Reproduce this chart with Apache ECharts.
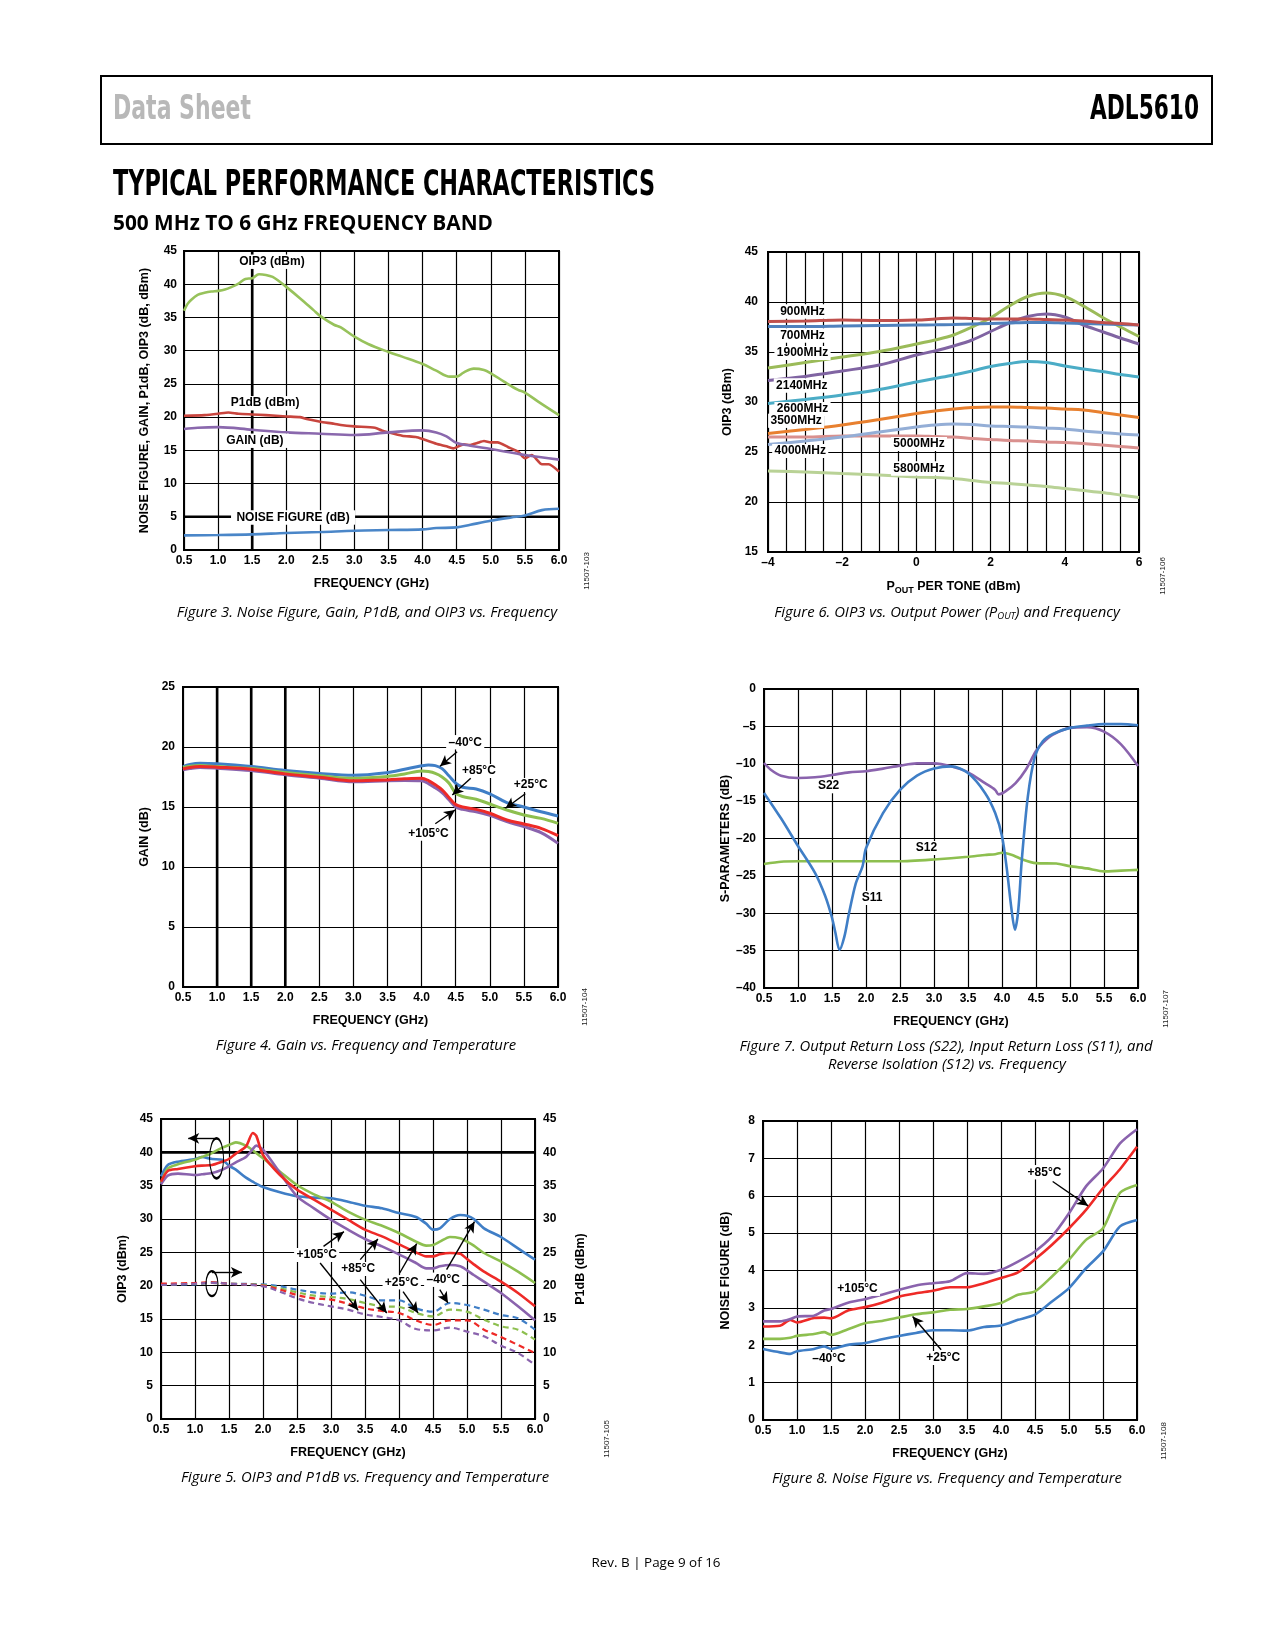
<!DOCTYPE html>
<html><head><meta charset="utf-8">
<script src="https://cdn.jsdelivr.net/npm/echarts@6/dist/echarts.min.js"></script>
<style>html,body{margin:0;padding:0;background:#fff}#c{width:1275px;height:1650px}</style>
</head><body><div id="c"></div>
<script>
// ---------------- DATA ----------------
// Figure 3: NF, Gain, P1dB, OIP3 vs frequency  [GHz, value]
const f3Oip3 = [[0.5,36.0],[0.55,37.0],[0.6,37.6],[0.7,38.4],[0.8,38.7],[0.9,38.9],[1.0,39.0],[1.1,39.2],[1.2,39.6],[1.3,40.1],[1.4,40.8],[1.5,40.9],[1.6,41.5],[1.7,41.4],[1.8,41.1],[1.9,40.4],[2.0,39.6],[2.2,37.9],[2.4,36.1],[2.5,35.2],[2.7,33.9],[2.8,33.5],[3.0,32.1],[3.2,31.0],[3.5,29.8],[3.7,29.1],[4.0,28.0],[4.2,27.0],[4.4,26.1],[4.5,26.1],[4.6,26.7],[4.75,27.3],[4.9,27.1],[5.0,26.6],[5.2,25.3],[5.4,24.1],[5.5,23.7],[5.7,22.3],[6.0,20.3]];
const f3P1dB = [[0.5,20.2],[0.8,20.3],[1.0,20.5],[1.15,20.7],[1.3,20.5],[1.5,20.4],[1.7,20.3],[2.0,20.1],[2.2,20.0],[2.3,19.7],[2.5,19.3],[2.7,19.0],[2.8,18.8],[3.0,18.6],[3.3,18.4],[3.4,18.0],[3.5,17.7],[3.7,17.2],[3.9,17.0],[4.0,16.7],[4.2,16.0],[4.35,15.6],[4.45,15.3],[4.6,15.9],[4.7,15.8],[4.8,16.1],[4.9,16.4],[5.0,16.2],[5.1,16.2],[5.25,15.5],[5.4,14.8],[5.5,13.8],[5.6,14.3],[5.75,12.9],[5.85,12.9],[6.0,11.8]];
const f3Gain = [[0.5,18.2],[0.7,18.4],[1.0,18.5],[1.5,18.1],[2.0,17.7],[2.5,17.5],[3.0,17.3],[3.5,17.7],[4.0,18.0],[4.2,17.7],[4.35,17.1],[4.5,16.1],[4.7,15.7],[5.0,15.2],[5.5,14.3],[6.0,13.6]];
const f3NF = [[0.5,2.2],[1.0,2.25],[1.5,2.35],[2.0,2.55],[2.5,2.7],[3.0,2.9],[3.5,3.0],[4.0,3.1],[4.2,3.3],[4.5,3.4],[4.7,3.8],[5.0,4.4],[5.3,4.9],[5.5,5.2],[5.75,6.0],[6.0,6.2]];

// Figure 6: OIP3 vs POUT per tone
const poutDbm = [-4,-3,-2,-1,0,0.5,1,1.5,2,2.5,3,3.5,4,4.5,5,5.5,6];
const oip3_900  = [38.05,38.1,38.2,38.15,38.2,38.3,38.4,38.35,38.3,38.3,38.3,38.25,38.2,38.1,37.95,37.85,37.7];
const oip3_700  = [37.55,37.55,37.6,37.65,37.7,37.72,37.75,37.8,37.85,37.9,37.95,37.95,37.9,37.85,37.8,37.75,37.7];
const oip3_1900 = [33.4,33.95,34.5,35.05,35.8,36.2,36.7,37.5,38.4,39.6,40.55,40.9,40.55,39.6,38.5,37.5,36.55];
const oip3_2140 = [32.15,32.55,33.1,33.7,34.7,35.1,35.6,36.2,37.05,37.9,38.55,38.8,38.5,37.7,37.05,36.4,35.8];
const oip3_2600 = [29.85,30.25,30.7,31.25,32.0,32.35,32.7,33.1,33.55,33.85,34.05,33.95,33.6,33.3,33.05,32.75,32.5];
const oip3_3500 = [26.85,27.25,27.7,28.25,28.85,29.1,29.3,29.45,29.5,29.5,29.45,29.4,29.3,29.2,28.95,28.7,28.45];
const oip3_4000 = [25.75,26.1,26.5,27.0,27.5,27.7,27.8,27.75,27.6,27.55,27.5,27.4,27.3,27.1,26.95,26.8,26.7];
const oip3_5000 = [26.5,26.5,26.6,26.6,26.6,26.55,26.5,26.35,26.25,26.15,26.1,26.0,25.95,25.85,25.7,25.55,25.4];
const oip3_5800 = [23.1,23.0,22.85,22.7,22.5,22.45,22.35,22.15,21.95,21.85,21.7,21.55,21.35,21.15,20.95,20.7,20.45];

// Figure 4: gain vs frequency and temperature
const f4Freq = [0.5,0.6,0.75,1.0,1.5,2.0,2.5,3.0,3.5,3.75,4.0,4.1,4.2,4.3,4.4,4.5,4.6,4.8,5.0,5.25,5.5,5.75,6.0];
const gainM40 = [18.37,18.55,18.65,18.6,18.37,18.04,17.8,17.65,17.87,18.15,18.43,18.5,18.45,18.2,17.6,16.98,16.65,16.5,16.1,15.37,15.0,14.6,14.25];
const gainP25 = [18.3,18.4,18.45,18.37,18.2,17.87,17.6,17.4,17.55,17.75,18.0,17.95,17.8,17.5,17.0,16.15,15.87,15.65,15.25,14.75,14.34,14.05,13.64];
const gainP85 = [18.18,18.3,18.37,18.32,18.15,17.76,17.48,17.18,17.26,17.35,17.4,17.2,16.85,16.43,15.8,15.2,15.0,14.8,14.48,13.92,13.59,13.22,12.61];
const gainP105 = [18.1,18.2,18.29,18.23,18.04,17.68,17.4,17.1,17.18,17.2,17.18,16.95,16.6,16.2,15.6,15.0,14.8,14.6,14.3,13.78,13.36,12.86,11.97];

// Figure 7: S-parameters [GHz, dB]
const s22 = [[0.5,-9.9],[0.6,-10.8],[0.75,-11.6],[1.0,-11.9],[1.25,-11.8],[1.5,-11.5],[1.75,-11.15],[2.0,-11.0],[2.25,-10.65],[2.5,-10.25],[2.75,-9.95],[3.0,-9.95],[3.25,-10.35],[3.5,-11.15],[3.75,-12.6],[3.9,-13.5],[3.95,-14.1],[4.05,-13.7],[4.2,-12.6],[4.35,-10.8],[4.5,-8.3],[4.6,-7.2],[4.75,-6.1],[5.0,-5.2],[5.25,-5.1],[5.5,-5.7],[5.75,-7.4],[6.0,-10.3]];
const s11 = [[0.5,-13.9],[0.75,-17.3],[1.0,-21.0],[1.25,-24.6],[1.4,-27.7],[1.5,-30.6],[1.55,-32.6],[1.61,-34.9],[1.68,-33.2],[1.75,-30.0],[1.85,-26.0],[1.95,-23.7],[2.0,-21.3],[2.25,-16.6],[2.5,-13.5],[2.75,-11.6],[3.0,-10.65],[3.25,-10.35],[3.5,-11.25],[3.75,-13.9],[3.9,-16.6],[4.0,-19.7],[4.07,-24.0],[4.14,-29.5],[4.19,-32.2],[4.24,-29.5],[4.29,-23.0],[4.38,-14.4],[4.48,-9.2],[4.6,-7.0],[4.75,-6.0],[5.0,-5.2],[5.25,-4.9],[5.5,-4.7],[5.75,-4.7],[6.0,-4.85]];
const s12 = [[0.5,-23.4],[0.75,-23.1],[1.0,-23.05],[1.5,-23.05],[2.0,-23.05],[2.5,-23.05],[3.0,-22.8],[3.5,-22.45],[3.75,-22.2],[3.9,-22.1],[4.0,-21.9],[4.15,-22.2],[4.3,-22.8],[4.5,-23.3],[4.8,-23.35],[5.0,-23.7],[5.25,-24.0],[5.5,-24.4],[5.75,-24.3],[6.0,-24.2]];

// Figure 5: OIP3 (solid) and P1dB (dashed) vs frequency and temperature
const f5Freq = [0.5,0.6,0.75,1.0,1.1,1.25,1.4,1.5,1.6,1.75,1.85,1.9,2.0,2.25,2.5,2.75,3.0,3.25,3.5,3.75,4.0,4.25,4.4,4.5,4.6,4.75,4.9,5.0,5.1,5.25,5.5,5.75,6.0];
const oip3M40 = [36.4,38.1,38.6,39.0,39.3,39.0,38.9,38.0,37.4,36.2,35.6,35.3,34.8,34.0,33.4,33.2,33.1,32.6,32.0,31.6,30.9,30.3,29.3,28.4,28.6,30.0,30.6,30.5,30.0,28.6,27.3,25.6,23.9];
const oip3P25 = [35.4,37.6,38.2,38.9,39.3,39.9,40.7,41.1,41.5,41.0,40.3,39.9,39.1,37.1,35.1,33.7,32.6,31.1,29.9,29.0,27.9,26.6,26.0,26.1,26.6,27.3,27.1,26.6,26.0,24.9,23.6,22.1,20.4];
const oip3P85 = [35.6,37.2,37.5,37.9,38.0,38.1,38.6,39.0,39.8,40.9,42.9,42.5,39.6,36.6,34.4,32.9,31.4,29.9,28.4,27.4,26.2,25.0,24.4,24.4,24.7,24.9,24.8,24.0,23.2,22.1,20.6,18.9,16.9];
const oip3P105 = [35.2,36.5,36.8,36.6,36.7,36.9,37.4,37.9,38.5,39.3,40.5,41.0,40.4,36.9,33.4,31.6,29.9,28.4,27.0,25.9,24.7,23.4,22.6,22.6,22.9,23.1,22.9,22.3,21.6,20.6,18.9,16.9,14.8];
const p1Freq = [0.5,1.0,1.25,1.5,2.0,2.25,2.5,2.75,3.0,3.25,3.5,3.75,4.0,4.25,4.5,4.75,5.0,5.25,5.5,5.75,6.0];
const p1dbM40 = [20.2,20.2,20.5,20.3,20.2,19.9,19.4,19.0,18.8,19.0,18.5,17.8,17.8,16.6,16.1,17.4,17.1,16.4,15.6,15.1,13.4];
const p1dbP25 = [20.2,20.3,20.4,20.3,20.1,19.6,19.0,18.5,18.3,18.0,17.4,16.9,16.8,15.9,15.4,16.4,16.1,14.9,13.9,13.4,11.9];
const p1dbP85 = [20.3,20.4,20.5,20.3,20.0,19.4,18.6,18.1,17.9,17.3,16.6,16.2,15.9,14.8,14.1,14.8,14.8,13.4,12.3,11.1,9.9];
const p1dbP105 = [20.1,20.3,20.4,20.3,19.9,19.1,18.1,17.4,16.9,16.4,15.7,15.3,14.8,13.5,13.3,13.7,13.1,12.4,11.0,9.9,8.1];

// Figure 8: noise figure vs frequency and temperature
const f8Freq = [0.5,0.75,0.9,1.0,1.25,1.4,1.5,1.75,2.0,2.25,2.5,2.75,3.0,3.25,3.5,3.75,4.0,4.25,4.5,4.75,5.0,5.25,5.5,5.75,6.0];
const nfP105 = [2.64,2.64,2.7,2.77,2.79,2.93,2.97,3.14,3.23,3.35,3.48,3.6,3.66,3.71,3.93,3.91,4.02,4.24,4.51,4.91,5.53,6.25,6.73,7.4,7.78];
const nfP85  = [2.5,2.52,2.68,2.61,2.73,2.74,2.72,2.93,3.02,3.14,3.3,3.39,3.46,3.55,3.55,3.66,3.8,3.95,4.3,4.69,5.13,5.62,6.2,6.71,7.31];
const nfP25  = [2.17,2.17,2.2,2.25,2.3,2.35,2.28,2.43,2.59,2.65,2.74,2.83,2.88,2.95,2.97,3.04,3.13,3.35,3.44,3.84,4.29,4.82,5.13,6.08,6.29];
const nfM40  = [1.9,1.81,1.77,1.84,1.9,1.97,1.9,2.01,2.06,2.16,2.25,2.33,2.4,2.4,2.39,2.49,2.53,2.68,2.82,3.17,3.53,4.06,4.51,5.18,5.35];

// Emphasised grid lines (axis values)
const f3BoldX = [1.5], f3BoldY = [5], f4BoldX = [1.0, 1.5, 2.0], f5BoldY = [40];

// Annotations (data coordinates)
const f3Labels = [['OIP3 (dBm)',1.79,43.4],['P1dB (dBm)',1.69,22.1],['GAIN (dB)',1.54,16.45],['NOISE FIGURE (dB)',2.1,4.9]];
const f6Labels = [['900MHz',-3.07,39.06],['700MHz',-3.07,36.65],['1900MHz',-3.07,34.9],['2140MHz',-3.09,31.64],['2600MHz',-3.07,29.3],['3500MHz',-3.24,28.13],['4000MHz',-3.13,25.09],['5000MHz',0.07,25.79],['5800MHz',0.07,23.35]];
const f4Labels = [['\u201340\u00b0C',4.64,20.4],['+85\u00b0C',4.84,18.0],['+25\u00b0C',5.6,16.84],['+105\u00b0C',4.1,12.8]];
const f4Arrows = [[4.52,19.6,4.27,18.4],[4.72,17.4,4.45,16.0],[5.52,16.1,5.23,14.9],[4.2,13.6,4.49,14.75]];
const f7Labels = [['S22',1.45,-13.0],['S12',2.89,-21.27],['S11',2.09,-27.95]];
const f5Labels = [['+105\u00b0C',2.79,24.6],['+85\u00b0C',3.4,22.5],['+25\u00b0C',4.04,20.5],['\u201340\u00b0C',4.65,20.9]];
const f5Arrows = [[2.89,25.9,3.19,28.1],[2.84,23.4,3.4,16.3],[3.43,23.9,3.69,27.0],[3.43,20.9,3.82,15.9],[4.01,21.9,4.26,26.3],[4.06,19.1,4.28,15.9],[4.7,22.4,5.11,29.6],[4.6,19.4,4.72,17.4],[1.31,42.1,0.9,42.1],[1.25,22.0,1.69,22.0]];
const f5Ellipses = [[1.317,39.1],[1.249,20.3]];
const f8Labels = [['+85\u00b0C',4.64,6.63],['+105\u00b0C',1.89,3.51],['\u201340\u00b0C',1.47,1.63],['+25\u00b0C',3.15,1.66]];
const f8Arrows = [[4.76,6.38,5.28,5.73],[3.12,1.88,2.7,2.77]];

// ---------------- STYLE / BUILD ----------------
const FONT = '"Liberation Sans", Arial, Helvetica, sans-serif';
const LBL = {color:'#000', fontFamily:FONT, fontWeight:'bold', fontSize:12};
const NAME = {color:'#000', fontFamily:FONT, fontWeight:'bold', fontSize:12.5};
const dash = v => v < 0 ? '\u2013' + Math.abs(v) : String(v);
const zip = (xs, ys) => xs.map((x, i) => [x, ys[i]]);
const C = {blue:'#3f7ec6', green:'#8dbf4f', red:'#ee2a27', purple:'#8a63ad'};

const mctx = document.createElement('canvas').getContext('2d');
function tw(text, font) { mctx.font = font; return mctx.measureText(text).width; }

const grids = [
  {left:184, top:251, width:375, height:299},
  {left:768, top:252, width:371, height:300},
  {left:183, top:687, width:375, height:300},
  {left:764, top:689, width:374, height:299},
  {left:161, top:1119, width:374, height:300},
  {left:763, top:1121, width:374, height:299}
].map(g => Object.assign(g, {show:true, borderColor:'#000', borderWidth:2, containLabel:false}));

function xAx(gi, o) {
  return Object.assign({
    type:'value', gridIndex:gi, min:0.5, max:6.0, interval:0.5,
    axisLine:{show:true, onZero:false, lineStyle:{color:'#000', width:2}},
    axisTick:{show:false},
    splitLine:{show:true, lineStyle:{color:'#000', width:1.2}},
    axisLabel:Object.assign({margin:5, interval:0, formatter:v => v.toFixed(1)}, LBL),
    name:'FREQUENCY (GHz)', nameLocation:'middle', nameGap:27, nameTextStyle:NAME
  }, o || {});
}
function yAx(gi, min, max, step, name, gap, o) {
  return Object.assign({
    type:'value', gridIndex:gi, min:min, max:max, interval:step,
    axisLine:{show:true, onZero:false, lineStyle:{color:'#000', width:2}},
    axisTick:{show:false},
    splitLine:{show:true, lineStyle:{color:'#000', width:1.2}},
    axisLabel:Object.assign({margin:8, formatter:dash}, LBL),
    name:name, nameLocation:'middle', nameGap:gap, nameTextStyle:NAME
  }, o || {});
}

const xAxes = [
  xAx(0),
  xAx(1, {min:-4, max:6, interval:0.5,
    axisLabel:Object.assign({margin:5, interval:0, formatter:v => Math.abs(v % 2) < 1e-9 ? dash(v) : ''}, LBL),
    name:'{a|P}{s|OUT}{a| PER TONE (dBm)}',
    nameTextStyle:{rich:{a:NAME, s:{color:'#000', fontFamily:FONT, fontWeight:'bold', fontSize:9, padding:[7,0,0,0]}}}}),
  xAx(2), xAx(3), xAx(4), xAx(5)
];
const yAxes = [
  yAx(0, 0, 45, 5, 'NOISE FIGURE, GAIN, P1dB, OIP3 (dB, dBm)', 33, {axisLabel:Object.assign({margin:7, formatter:dash}, LBL)}),
  yAx(1, 15, 45, 5, 'OIP3 (dBm)', 34, {axisLabel:Object.assign({margin:10, formatter:dash}, LBL)}),
  yAx(2, 0, 25, 5, 'GAIN (dB)', 32),
  yAx(3, -40, 0, 5, 'S-PARAMETERS (dB)', 32),
  yAx(4, 0, 45, 5, 'OIP3 (dBm)', 32),
  yAx(5, 0, 8, 1, 'NOISE FIGURE (dB)', 31),
  yAx(4, 0, 45, 5, 'P1dB (dBm)', 39, {position:'right', splitLine:{show:false}})
];

function ln(xi, yi, data, color, o) {
  o = o || {};
  return {type:'line', xAxisIndex:xi, yAxisIndex:yi, data:data, showSymbol:false, symbol:'none',
    smooth:o.smooth == null ? 0.35 : o.smooth, silent:true, z:o.z || 3, animation:false,
    lineStyle:{color:color, width:o.width || 2.6, type:o.dash ? [6,4] : 'solid'}, itemStyle:{color:color}};
}
// emphasised grid lines drawn as plain line series spanning the axis range
function boldLines(xi, yi, xs, ys) {
  const xa = xAxes[xi], ya = yAxes[yi];
  const out = [];
  (xs || []).forEach(x => out.push(ln(xi, yi, [[x, ya.min], [x, ya.max]], '#000', {smooth:0, width:2.6, z:1})));
  (ys || []).forEach(y => out.push(ln(xi, yi, [[xa.min, y], [xa.max, y]], '#000', {smooth:0, width:2.6, z:1})));
  return out;
}
const LBLFONT = 'bold 12px ' + FONT;
function ann(xi, yi, labels, arrows, padX) {
  padX = padX == null ? 2 : padX;
  const s = {type:'scatter', xAxisIndex:xi, yAxisIndex:yi, z:6, silent:true, animation:false,
    symbol:'rect', itemStyle:{color:'#ffffff', opacity:1, borderWidth:0},
    data:labels.map(l => ({name:l[0], value:[l[1], l[2]], symbolSize:[Math.ceil(tw(l[0], LBLFONT)) + 2 * padX, 14]})),
    label:Object.assign({show:true, position:'inside', formatter:'{b}', textBorderWidth:0,
      backgroundColor:'#ffffff', padding:[1, padX]}, LBL)};
  if (arrows && arrows.length) {
    s.markLine = {silent:true, animation:false, z:7, symbol:['none','arrow'], symbolSize:[8,11],
      label:{show:false}, lineStyle:{color:'#000', width:1.4, type:'solid', opacity:1},
      data:arrows.map(a => [{coord:[a[0], a[1]]}, {coord:[a[2], a[3]]}])};
  }
  return s;
}

const series = [].concat(
  // Figure 3
  boldLines(0, 0, f3BoldX, f3BoldY),
  [ln(0, 0, f3Oip3, '#97c25b'), ln(0, 0, f3P1dB, '#c8453e', {smooth:0.2}), ln(0, 0, f3Gain, '#8a68ad'), ln(0, 0, f3NF, '#4a86c8'),
   ann(0, 0, f3Labels, null, 5)],
  // Figure 6
  [ln(1, 1, zip(poutDbm, oip3_5800), '#b9d296', {width:3}),
   ln(1, 1, zip(poutDbm, oip3_5000), '#d9908e', {width:3}),
   ln(1, 1, zip(poutDbm, oip3_4000), '#94aed6', {width:3}),
   ln(1, 1, zip(poutDbm, oip3_3500), '#e8802f', {width:3}),
   ln(1, 1, zip(poutDbm, oip3_2600), '#4bacc6', {width:3}),
   ln(1, 1, zip(poutDbm, oip3_2140), '#8064a2', {width:3}),
   ln(1, 1, zip(poutDbm, oip3_1900), '#9bbb59', {width:3}),
   ln(1, 1, zip(poutDbm, oip3_700), '#4f81bd', {width:3}),
   ln(1, 1, zip(poutDbm, oip3_900), '#c0504d', {width:3}),
   ann(1, 1, f6Labels)],
  // Figure 4
  boldLines(2, 2, f4BoldX, null),
  [ln(2, 2, zip(f4Freq, gainM40), C.blue, {width:3}),
   ln(2, 2, zip(f4Freq, gainP25), C.green, {width:3}),
   ln(2, 2, zip(f4Freq, gainP105), C.purple, {width:3}),
   ln(2, 2, zip(f4Freq, gainP85), C.red, {width:3}),
   ann(2, 2, f4Labels, f4Arrows)],
  // Figure 7
  [ln(3, 3, s12, C.green, {smooth:0.2}),
   ln(3, 3, s22, C.purple, {smooth:0.3}),
   ln(3, 3, s11, C.blue, {smooth:0.3}),
   ann(3, 3, f7Labels)],
  // Figure 5
  boldLines(4, 4, null, f5BoldY),
  [ln(4, 6, zip(p1Freq, p1dbM40), C.blue, {dash:true, width:2.2}),
   ln(4, 6, zip(p1Freq, p1dbP25), C.green, {dash:true, width:2.2}),
   ln(4, 6, zip(p1Freq, p1dbP85), C.red, {dash:true, width:2.2}),
   ln(4, 6, zip(p1Freq, p1dbP105), C.purple, {dash:true, width:2.2}),
   ln(4, 4, zip(f5Freq, oip3M40), C.blue, {smooth:0.25}),
   ln(4, 4, zip(f5Freq, oip3P25), C.green, {smooth:0.25}),
   ln(4, 4, zip(f5Freq, oip3P105), C.purple, {smooth:0.25}),
   ln(4, 4, zip(f5Freq, oip3P85), C.red, {smooth:0.25}),
   {type:'scatter', xAxisIndex:4, yAxisIndex:4, z:5, silent:true, animation:false, symbol:'circle',
     itemStyle:{color:'rgba(0,0,0,0)', borderColor:'#000', borderWidth:1.6, opacity:1},
     data:[{value:f5Ellipses[0], symbolSize:[14,40]}, {value:f5Ellipses[1], symbolSize:[12,25]}]},
   ann(4, 4, f5Labels, f5Arrows)],
  // Figure 8
  [ln(5, 5, zip(f8Freq, nfM40), C.blue, {smooth:0.25}),
   ln(5, 5, zip(f8Freq, nfP25), C.green, {smooth:0.25}),
   ln(5, 5, zip(f8Freq, nfP85), C.red, {smooth:0.25}),
   ln(5, 5, zip(f8Freq, nfP105), C.purple, {smooth:0.25}),
   ann(5, 5, f8Labels, f8Arrows)]
);

// ---------------- PAGE TEXT ----------------
const HF = '"Liberation Sans Narrow", "DejaVu Sans Condensed", "Liberation Sans", sans-serif';
const CAPF = 'italic 14px "Open Sans", "Noto Sans", sans-serif';
const capScale = 413 / tw('Figure 7. Output Return Loss (S22), Input Return Loss (S11), and', CAPF);

function gtext(x, y, text, font, fill, align, sx, extra) {
  return Object.assign({type:'text', x:x, y:y, scaleX:sx || 1, silent:true, z:100,
    style:{x:0, y:0, text:text, font:font, fill:fill, textAlign:align, align:align, textVerticalAlign:'middle', verticalAlign:'middle'}}, extra || {});
}
function fitText(x, y, text, font, fill, align, width) {
  return gtext(x, y, text, font, fill, align, width / tw(text, font));
}
function caption(x, y, text) { return gtext(x, y, text, CAPF, '#000', 'center', capScale); }
function idText(x, y, text) {
  return gtext(x, y, text, '8px "Liberation Sans", sans-serif', '#222', 'center', 1, {rotation:Math.PI / 2});
}

const graphic = [
  {type:'rect', z:100, silent:true, shape:{x:101, y:76, width:1111, height:68}, style:{fill:'none', stroke:'#000', lineWidth:2}},
  fitText(113, 110.5, 'Data Sheet', 'bold 34px ' + HF, '#b8b8b8', 'left', 138),
  fitText(1199, 110.5, 'ADL5610', 'bold 34px ' + HF, '#000', 'right', 109),
  fitText(113, 185.5, 'TYPICAL PERFORMANCE CHARACTERISTICS', 'bold 35px ' + HF, '#000', 'left', 542),
  fitText(113, 224.5, '500 MHz TO 6 GHz FREQUENCY BAND', 'bold 21px "Open Sans", "Noto Sans", sans-serif', '#000', 'left', 380),
  caption(367, 613, 'Figure 3. Noise Figure, Gain, P1dB, and OIP3 vs. Frequency'),
  {type:'text', x:947, y:613, scaleX:capScale, silent:true, z:100,
    style:{x:0, y:0, text:'{a|Figure 6. OIP3 vs. Output Power (P}{s|OUT}{a|) and Frequency}', textAlign:'center', align:'center', textVerticalAlign:'middle', verticalAlign:'middle',
      rich:{a:{font:CAPF, fill:'#000'}, s:{font:'italic 9px "Open Sans", "Noto Sans", sans-serif', fill:'#000', padding:[6,0,0,0]}}}},
  caption(366, 1046, 'Figure 4. Gain vs. Frequency and Temperature'),
  caption(946, 1047, 'Figure 7. Output Return Loss (S22), Input Return Loss (S11), and'),
  caption(947, 1065, 'Reverse Isolation (S12) vs. Frequency'),
  caption(365, 1478, 'Figure 5. OIP3 and P1dB vs. Frequency and Temperature'),
  caption(947, 1479, 'Figure 8. Noise Figure vs. Frequency and Temperature'),
  fitText(656, 1563, 'Rev. B | Page 9 of 16', '13px "Open Sans", "Noto Sans", sans-serif', '#000', 'center', 129),
  idText(587, 571, '11507-103'),
  idText(1163, 576, '11507-106'),
  idText(585, 1007, '11507-104'),
  idText(1166, 1009, '11507-107'),
  idText(607, 1439, '11507-105'),
  idText(1164, 1441, '11507-108')
];

const chart = echarts.init(document.getElementById('c'), null, {renderer:'canvas', width:1275, height:1650});
chart.setOption({
  animation:false,
  backgroundColor:'#fff',
  grid:grids, xAxis:xAxes, yAxis:yAxes, series:series, graphic:graphic
});
</script></body></html>
